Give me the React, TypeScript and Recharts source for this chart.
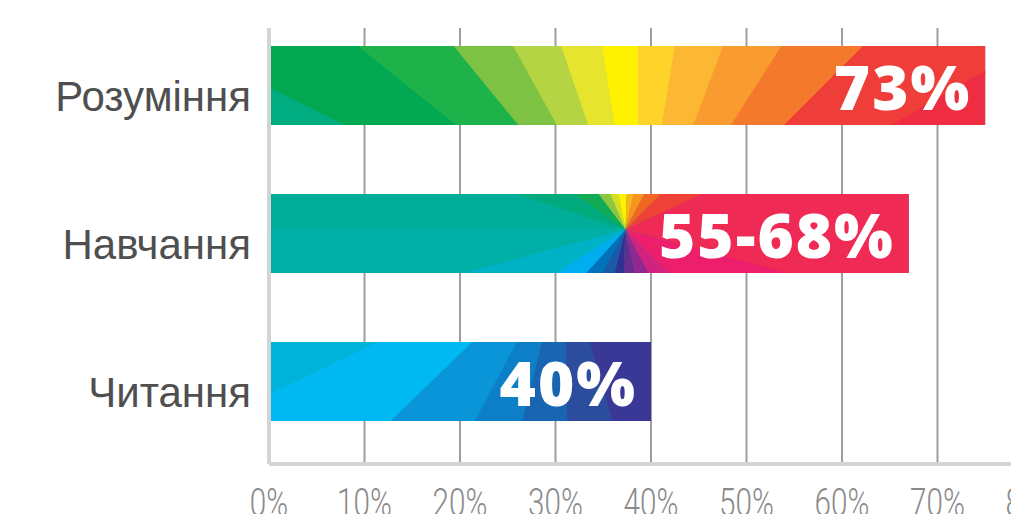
import React from 'react'
import { BarChart, Bar, XAxis, YAxis, CartesianGrid, LabelList } from 'recharts'

const categories = ['Розуміння', 'Навчання', 'Читання']
const shares = [75, 67, 40]
const barLabels = ['73%', '55-68%', '40%']
const xTicks = [0, 10, 20, 30, 40, 50, 60, 70, 80]

// colour fans painted inside each bar: centre as fraction of the bar, then [start angle, colour]
const fans = [
  {
    cx: 0.515,
    cy: 2.85,
    end: 0,
    stops: [
      [-180, '#00ad80'],
      [-153.5, '#03a852'],
      [-141.2, '#1eb24b'],
      [-129.3, '#7dc243'],
      [-119, '#b4d444'],
      [-108.8, '#e7e42f'],
      [-99, '#fff200'],
      [-90, '#ffd42a'],
      [-80.7, '#fdb833'],
      [-69.3, '#f99b2f'],
      [-57.5, '#f5792d'],
      [-45, '#ef3e39'],
      [-30, '#ee2d43'],
    ],
  },
  {
    cx: 0.557,
    cy: 0.45,
    end: 180,
    stops: [
      [-180, '#00ad98'],
      [-162, '#00aa7c'],
      [-145, '#0fab55'],
      [-127, '#8dc63f'],
      [-113, '#d7df23'],
      [-101, '#fff200'],
      [-88, '#fdb515'],
      [-77, '#f7941d'],
      [-62, '#f26522'],
      [-45, '#ef4136'],
      [-25, '#ef2a55'],
      [15, '#ed1f6c'],
      [45, '#d0237f'],
      [62, '#92278f'],
      [78, '#662d91'],
      [92, '#2e3192'],
      [104, '#1b59a7'],
      [118, '#0072bc'],
      [132, '#00aeef'],
      [148, '#00b2c6'],
      [165, '#00afa6'],
    ],
  },
  {
    cx: 0.773,
    cy: -1.13,
    end: 180,
    stops: [
      [0, '#393896'],
      [74, '#2c4d9e'],
      [89, '#1a65b1'],
      [104, '#0c7fc7'],
      [118, '#0995d8'],
      [135.9, '#00b9f2'],
      [154.4, '#00b3d9'],
    ],
  },
]

const data = categories.map((name, i) => ({ name, value: shares[i], label: barLabels[i] }))

const pt = (cx: number, cy: number, a: number) => {
  const r = 3000
  const rad = (a * Math.PI) / 180
  return `${cx + r * Math.cos(rad)},${cy + r * Math.sin(rad)}`
}

const FanBar = (props: any) => {
  const { x, y, width, height, index } = props
  const fan = fans[index]
  const cx = x + fan.cx * width
  const cy = y + fan.cy * height
  const id = `fan-clip-${index}`
  return (
    <g>
      <defs>
        <clipPath id={id}>
          <rect x={x} y={y} width={width} height={height} />
        </clipPath>
      </defs>
      <g clipPath={`url(#${id})`}>
        <rect x={x} y={y} width={width} height={height} fill={fan.stops[0][1] as string} />
        {fan.stops.map((s, i) => {
          const a0 = s[0] as number
          const a1 = i + 1 < fan.stops.length ? (fan.stops[i + 1][0] as number) : fan.end
          const mid = (a0 + a1) / 2
          return (
            <polygon
              key={i}
              points={`${cx},${cy} ${pt(cx, cy, a0)} ${pt(cx, cy, mid)} ${pt(cx, cy, a1 + 0.4)}`}
              fill={s[1] as string}
            />
          )
        })}
      </g>
    </g>
  )
}

const BarTag = (props: any) => {
  const { x, y, width, height, value } = props
  return (
    <text
      x={x + width - 14}
      y={y + height / 2 + 24}
      textAnchor="end"
      fill="#fff"
      fontFamily="'Open Sans', sans-serif"
      fontWeight={800}
      fontSize={62}
      letterSpacing={2}
    >
      {value}
    </text>
  )
}

const CategoryTick = ({ x, y, payload }: any) => (
  <text
    x={x + 1}
    y={y + 26}
    textAnchor="end"
    fill="#4f4f4f"
    fontFamily="'Liberation Sans', Arial, sans-serif"
    fontSize={42}
  >
    {payload.value}
  </text>
)

const PercentTick = ({ x, y, payload }: any) => (
  <g transform={`translate(${x},${y})`}>
    <text
      transform="scale(0.78,1)"
      y={52}
      textAnchor="middle"
      fill="#8a8a8a"
      fontFamily="Roboto, sans-serif"
      fontWeight={300}
      fontSize={38}
    >
      {payload.value}%
    </text>
  </g>
)

export default function App() {
  return (
    <div
      style={{
        position: 'fixed',
        left: 0,
        top: 0,
        width: 1011,
        height: 514,
        overflow: 'hidden',
        background: '#fff',
      }}
    >
      <BarChart
        width={1100}
        height={514}
        data={data}
        layout="vertical"
        margin={{ top: 28, right: 67, bottom: 0, left: 0 }}
      >
        <CartesianGrid horizontal={false} stroke="#9e9e9e" strokeWidth={2} />
        <XAxis
          type="number"
          domain={[0, 80]}
          ticks={xTicks}
          height={50}
          tickSize={0}
          tickMargin={0}
          tickLine={false}
          axisLine={{ stroke: '#d4d4d4', strokeWidth: 4 }}
          tick={<PercentTick />}
        />
        <YAxis
          type="category"
          dataKey="name"
          width={269}
          padding={{ top: -17, bottom: 9 }}
          tickSize={0}
          tickMargin={19}
          tickLine={false}
          axisLine={{ stroke: '#d4d4d4', strokeWidth: 4 }}
          tick={<CategoryTick />}
        />
        <Bar dataKey="value" barSize={79} shape={<FanBar />} isAnimationActive={false}>
          <LabelList dataKey="label" content={<BarTag />} />
        </Bar>
      </BarChart>
    </div>
  )
}
